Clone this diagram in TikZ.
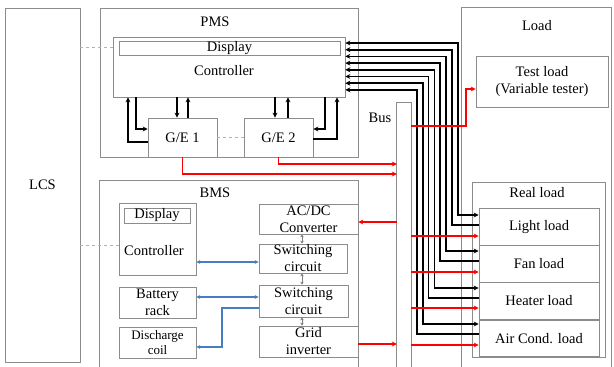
\documentclass[tikz,border=0pt]{standalone}
\usepackage{fontspec}
\setmainfont{Liberation Serif}
\usepackage{xcolor}
\usepackage{tikz}
\usetikzlibrary{arrows.meta}
\definecolor{combl}{RGB}{70,125,195}

\begin{document}
\begin{tikzpicture}[x=1pt,y=-1pt,
  box/.style={draw=black!45,line width=0.7pt,inner sep=0pt,align=center,font=\fontsize{14.5}{17}\selectfont},
  txt/.style={inner sep=0pt,align=center,font=\fontsize{14.5}{17}\selectfont},
  frame/.style={minimum width=#1,inner sep=0pt},
  ctl/.style={line width=1.8pt,-{Stealth[length=5pt,width=5pt]}},
  pwr/.style={red,line width=1.7pt,-{Stealth[length=5pt,width=5pt]}},
  com/.style={combl,line width=1.3pt,{Stealth[length=4pt,width=4pt]}-{Stealth[length=4pt,width=4pt]}},
  gry/.style={black!50,line width=0.8pt,{Stealth[length=3pt,width=3.5pt]}-{Stealth[length=3pt,width=3.5pt]}},
  lnk/.style={black!30,line width=0.8pt,dashed}]
\useasboundingbox (0,0) rectangle (614,367);

% LCS
\node[box,minimum width=75,minimum height=354] (lcs) at (42.5,185) {LCS};

% PMS
\node[box,minimum width=258,minimum height=149] (pms) at (229,82.5) {};
\node[txt] (pmslbl) at (215,22) {PMS};
\node[box,minimum width=232,minimum height=60] (pctrl) at (229,67) {};
\node[box,minimum width=221,minimum height=14] (pdisp) at (229.5,48) {Display};
\node[txt] (pctrltxt) at (224,71) {Controller};
\node[box,minimum width=69,minimum height=39] (ge1) at (182.5,137.5) {G/E 1};
\node[box,minimum width=69,minimum height=39] (ge2) at (278.5,137.5) {G/E 2};

% BMS
\path (229,274) node[frame=258,minimum height=186] (bms) {};
\draw[black!45,line width=0.7pt] (bms.south west) |- (bms.north east) -- (bms.south east);
\node[txt] (bmslbl) at (215,193) {BMS};
\node[box,minimum width=77,minimum height=72] (bctrl) at (157.5,239) {};
\node[box,minimum width=66,minimum height=15] (bdisp) at (157,215.5) {Display};
\node[txt] (bctrltxt) at (154,251) {Controller};
\node[box,minimum width=77,minimum height=31] (batt) at (157.5,302.5) {Battery\\rack};
\node[box,minimum width=77,minimum height=31,font=\fontsize{13}{15}\selectfont] (dcoil) at (157.5,342.5) {Discharge\\coil};
\node[box,minimum width=99,minimum height=30] (acdc) at (308.5,219) {AC/DC\\Converter};
\node[box,minimum width=88,minimum height=29] (sw1) at (303,258.5) {Switching\\circuit};
\node[box,minimum width=89,minimum height=32] (sw2) at (303.5,301) {Switching\\circuit};
\node[box,minimum width=99,minimum height=31] (grid) at (308.5,341.5) {Grid\\inverter};

% Bus
\path (404,235) node[frame=14,minimum height=264] (bus) {};
\draw[black!45,line width=0.7pt] (bus.south west) |- (bus.north east) -- (bus.south east);
\node[txt] (buslbl) at (380,118) {Bus};

% Load
\path (536.5,187.5) node[frame=149,minimum height=359] (load) {};
\draw[black!45,line width=0.7pt] (load.south west) |- (load.north east) -- (load.south east);
\node[txt] (loadlbl) at (537,26) {Load};
\node[box,minimum width=132,minimum height=51] (test) at (542,81.5) {Test load\\(Variable tester)};
\node[box,minimum width=133,minimum height=175] (real) at (538.5,269.5) {};
\node[txt] (reallbl) at (537,193) {Real load};
\node[box,minimum width=120,minimum height=36.5,anchor=north] (light) at (539,208) {Light load};
\node[box,minimum width=120,minimum height=36.5,anchor=north] (fan) at (light.south) {Fan load};
\node[box,minimum width=120,minimum height=36.5,anchor=north] (heat) at (fan.south) {Heater load};
\node[box,minimum width=120,minimum height=36.5,anchor=north] (air) at (heat.south) {Air Cond. load};

% links to LCS
\draw[lnk] (lcs.east |- 0,47) -- (pctrl.west |- 0,47);
\draw[lnk] (lcs.east |- 0,245) -- (bctrl.west |- 0,245);
\draw[lnk] (ge1.east) -- (ge2.west);

% G/E control
\draw[ctl] (ge1.west |- 0,142) -| (pctrl.south -| 128,0);
\draw[ctl] (pctrl.south -| 136,0) |- (ge1.west |- 0,129);
\draw[ctl] (pctrl.south -| 177,0) -- (ge1.north -| 177,0);
\draw[ctl] (ge1.north -| 188,0) -- (pctrl.south -| 188,0);
\draw[ctl] (pctrl.south -| 275,0) -- (ge2.north -| 275,0);
\draw[ctl] (ge2.north -| 288,0) -- (pctrl.south -| 288,0);
\draw[ctl] (pctrl.south -| 325,0) |- (ge2.east |- 0,129);
\draw[ctl] (ge2.east |- 0,139) -| (pctrl.south -| 337,0);

% load control
\foreach \n/\ya/\yb [count=\i from 0] in {light/215/225,fan/251/261,heat/288/298,air/324/334}{
  \pgfmathsetmacro\ta{43+13.4*\i}
  \pgfmathsetmacro\tb{49.7+13.4*\i}
  \pgfmathsetmacro\xa{458-11.8*\i}
  \pgfmathsetmacro\xb{452.1-11.8*\i}
  \draw[ctl,{Stealth[length=5pt,width=5pt]}-{Stealth[length=5pt,width=5pt]}] (pctrl.east |- 0,\ta) -| (\xa,\ya) -- (\n.west |- 0,\ya);
  \draw[ctl] (\n.west |- 0,\yb) -| (\xb,\tb) -- (pctrl.east |- 0,\tb);
}

% power
\draw[pwr] (ge1.south) |- (bus.west |- 0,174);
\draw[pwr] (ge2.south) |- (bus.west |- 0,164);
\coordinate (tj) at (466,126);
\draw[pwr] (bus.east |- tj) -- (tj) |- (test.west |- 0,89);
\draw[pwr] (bus.west |- 0,222) -- (acdc.east |- 0,222);
\draw[pwr] (grid.east |- 0,344) -- (bus.west |- 0,344);
\foreach \n/\yr in {light/236,fan/272,heat/308,air/345}
  \draw[pwr] (bus.east |- 0,\yr) -- (\n.west |- 0,\yr);

% BMS inside
\foreach \a/\b in {acdc/sw1,sw1/sw2,sw2/grid}
  \draw[gry] (\a.south -| 302,0) -- (\b.north -| 302,0);
\draw[com] (bctrl.east |- 0,262) -- (sw1.west |- 0,262);
\draw[com] (batt.east |- 0,297) -- (sw2.west |- 0,297);
\draw[com,-{Stealth[length=4pt,width=4pt]}] (sw2.west |- 0,308) -| (222,347) -- (dcoil.east |- 0,347);
\end{tikzpicture}
\end{document}
